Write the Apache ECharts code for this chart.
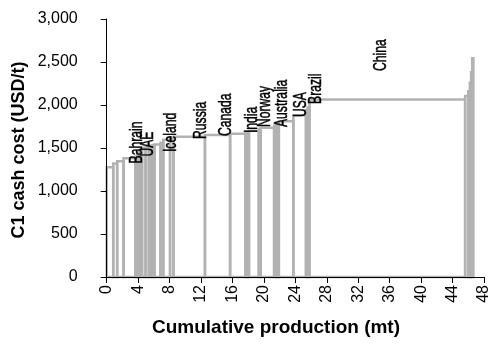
<!DOCTYPE html>
<html><head><meta charset="utf-8">
<script src="https://cdn.jsdelivr.net/npm/echarts/dist/echarts.min.js"></script>
<style>html,body{margin:0;padding:0;background:#fff}#c{width:492px;height:345px}</style>
</head><body><div id="c"></div>
<script>
// Smelter capacities (mt) in cost order, and C1 cash cost (USD/t)
const capacity = [0.83,0.50,0.81,1.51,0.20,0.15,0.19,0.31,0.44,0.42,0.19,0.20,0.15,0.18,0.77,0.35,0.86,0.44,4.00,3.20,1.95,0.20,0.25,1.25,0.25,1.70,0.20,0.20,0.20,1.85,1.60,0.20,0.25,19.80,0.40,0.20,0.15,0.15,0.15];
const cost     = [1275,1320,1345,1380,1400,1420,1450,1480,1500,1510,1520,1525,1530,1535,1540,1560,1595,1615,1630,1650,1665,1675,1685,1700,1720,1735,1760,1775,1790,1810,1880,1940,1970,2065,2105,2160,2260,2380,2545];
// Country labels: name, cumulative production at label, cost at label base
const labelNames = ['Bahrain','UAE','Iceland','Russia','Canada','India','Norway','Australia','USA','Brazil','China'];
const labelX     = [3.85, 5.25, 8.1, 11.95, 15.2, 18.5, 20.1, 22.3, 24.7, 26.6, 34.9];
const labelY     = [1320, 1400, 1453, 1605, 1640, 1674, 1744, 1744, 1860, 2012, 2395];
const xTitle = 'Cumulative production (mt)';
const yTitle = 'C1 cash cost (USD/t)';

const rects = [];
let cum = 0;
for (let i = 0; i < capacity.length; i++) {
  rects.push([cum, cum + capacity[i], cost[i]]);
  cum += capacity[i];
}
const labelData = labelX.map((x, i) => [x, labelY[i]]);

const chart = echarts.init(document.getElementById('c'), null, {renderer: 'canvas'});
const GRAY = '#b2b2b2';
const FONT = '"Liberation Sans", Arial, sans-serif';
chart.setOption({
  animation: false,
  backgroundColor: '#fff',
  grid: {left: 106.7, right: 3.7, top: 19, bottom: 68},
  xAxis: {
    type: 'value', min: 0, max: 48, interval: 4, z: 5,
    axisLine: {show: true, onZero: false, lineStyle: {color: '#000', width: 1}},
    axisTick: {show: true, length: 6, lineStyle: {color: '#000'}},
    splitLine: {show: false},
    axisLabel: {rotate: 90, margin: 8, color: '#000', fontFamily: FONT, fontSize: 16}
  },
  yAxis: {
    type: 'value', min: 0, max: 3000, interval: 500, z: 5,
    axisLine: {show: true, lineStyle: {color: '#000', width: 1}},
    axisTick: {show: true, length: 6, lineStyle: {color: '#000'}},
    splitLine: {show: false},
    axisLabel: {margin: 29, color: '#000', fontFamily: FONT, fontSize: 16,
      formatter: v => String(v).replace(/\B(?=(\d{3})+(?!\d))/g, ',')}
  },
  graphic: [
    {type: 'text', x: 276, y: 328, style: {text: xTitle, align: 'center', verticalAlign: 'middle',
      font: 'bold 19px ' + FONT, fill: '#000'}},
    {type: 'text', x: 19, y: 150, rotation: Math.PI / 2, style: {text: yTitle, align: 'center', verticalAlign: 'middle',
      font: 'bold 18px ' + FONT, fill: '#000'}}
  ],
  series: [
    {
      type: 'custom', z: 1, clip: false,
      encode: {x: [0, 1], y: 2},
      data: rects,
      renderItem: function (params, api) {
        const p0 = api.coord([api.value(0), api.value(2)]);
        const p1 = api.coord([api.value(1), 0]);
        return {type: 'rect', shape: {x: p0[0], y: p0[1], width: p1[0] - p0[0], height: p1[1] - p0[1]},
          style: {fill: 'none', stroke: GRAY, lineWidth: 2.5}};
      }
    },
    {
      type: 'custom', z: 3, clip: false,
      encode: {x: 0, y: 1},
      data: labelData,
      renderItem: function (params, api) {
        const p = api.coord([api.value(0), api.value(1)]);
        return {type: 'text', x: p[0], y: p[1], rotation: Math.PI / 2, scaleX: 0.64,
          style: {text: labelNames[params.dataIndex], x: 0, y: 0, align: 'left', verticalAlign: 'middle',
            font: '19px ' + FONT, fill: '#000', stroke: '#000', lineWidth: 0.5}};
      }
    }
  ]
});
</script></body></html>
